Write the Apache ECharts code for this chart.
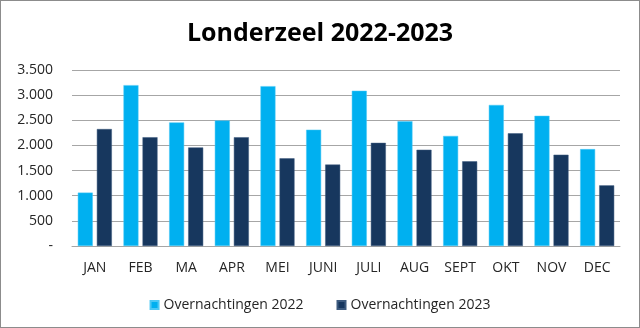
<!DOCTYPE html>
<html><head><meta charset="utf-8">
<script src="https://cdn.jsdelivr.net/npm/echarts@6/dist/echarts.min.js"></script>
<style>html,body{margin:0;padding:0;background:#fff}#c{width:640px;height:328px;box-sizing:border-box;border:1px solid #8c8c8c}</style>
</head><body><div id="c"></div>
<script>
const categories = ['JAN','FEB','MA','APR','MEI','JUNI','JULI','AUG','SEPT','OKT','NOV','DEC'];
const values2022 = [1062,3199,2458,2497,3179,2313,3087,2480,2189,2805,2589,1927];
const values2023 = [2326,2163,1960,2163,1743,1619,2051,1914,1684,2241,1815,1206];
const seriesNames = ['Overnachtingen 2022','Overnachtingen 2023'];
const FONT = '"Open Sans", sans-serif';
const chart = echarts.init(document.getElementById('c'), null, {renderer:'canvas'});
chart.setOption({
  animation:false,
  title:{text:'Londerzeel 2022-2023',left:'center',top:15,textStyle:{fontFamily:FONT,fontSize:25,fontWeight:'bold',color:'#000'}},
  legend:{bottom:10,left:'center',itemWidth:8,itemHeight:8,itemGap:33,icon:'rect',textStyle:{fontFamily:FONT,fontSize:14,color:'#262626'},data:seriesNames},
  grid:{left:71,right:19,top:69,bottom:81,containLabel:false},
  xAxis:{type:'category',data:categories,axisLine:{lineStyle:{color:'#a6a6a6'}},axisTick:{show:false},
    axisLabel:{fontFamily:FONT,fontSize:14,color:'#262626',margin:15}},
  yAxis:{type:'value',min:0,max:3500,interval:500,axisLine:{show:false},axisTick:{show:false},
    splitLine:{lineStyle:{color:'#a6a6a6',width:1}},
    axisLabel:{fontFamily:FONT,fontSize:14,color:'#262626',margin:19,
      formatter:v=>v===0?'-':v.toLocaleString('de-DE')}},
  series:[
    {name:seriesNames[0],type:'bar',data:values2022,barWidth:15,barGap:'27%',itemStyle:{color:'#00B0F0',borderColor:'#4cc8f5',borderWidth:0.5}},
    {name:seriesNames[1],type:'bar',data:values2023,barWidth:15,itemStyle:{color:'#17375E',borderColor:'#3d5a7e',borderWidth:0.5}}
  ]
});
</script></body></html>
